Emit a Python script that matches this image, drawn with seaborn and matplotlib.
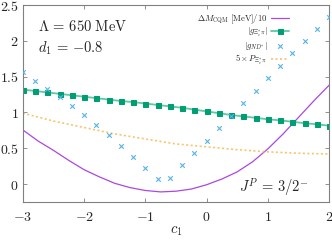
import numpy as np
import pandas as pd
import matplotlib
matplotlib.use('Agg')
import matplotlib.pyplot as plt
import seaborn as sns

# c1 grid for the coupled-channel points
c1_pts = [-3.0, -2.8, -2.6, -2.4, -2.2, -2.0, -1.8, -1.6, -1.4, -1.2, -1.0, -0.8, -0.6,
          -0.4, -0.2, 0.0, 0.2, 0.4, 0.6, 0.8, 1.0, 1.2, 1.4, 1.6, 1.8, 2.0]
g_xic_pi = [1.32, 1.30, 1.28, 1.26, 1.24, 1.22, 1.20, 1.18, 1.16, 1.145, 1.125, 1.105, 1.085,
            1.065, 1.04, 1.015, 0.99, 0.965, 0.945, 0.925, 0.905, 0.89, 0.87, 0.85, 0.835, 0.815]
g_nd = [1.56, 1.44, 1.33, 1.21, 1.09, 0.96, 0.82, 0.68, 0.53, 0.38, 0.23, 0.065, 0.09,
        0.26, 0.43, 0.60, 0.78, 0.95, 1.13, 1.30, 1.48, 1.65, 1.83, 2.00, 2.17, 2.33]

# CQM mass shift / 10 (curve)
c1_line = [-3.0, -2.75, -2.5, -2.25, -2.0, -1.75, -1.5, -1.25, -1.0, -0.75, -0.5,
           -0.25, 0.0, 0.25, 0.5, 0.75, 1.0, 1.25, 1.5, 1.75, 2.0]
dm_cqm = [0.755, 0.60, 0.47, 0.33, 0.20, 0.10, 0.01, -0.05, -0.09, -0.11, -0.10,
          -0.07, -0.01, 0.07, 0.17, 0.31, 0.49, 0.70, 0.93, 1.16, 1.38]

# 5 x probability
c1_prob = [-3.0, -2.5, -2.0, -1.5, -1.0, -0.5, 0.0, 0.5, 1.0, 1.5, 2.0]
prob5 = [0.99, 0.88, 0.79, 0.70, 0.63, 0.56, 0.52, 0.48, 0.45, 0.43, 0.42]

x_ticks = [-3, -2, -1, 0, 1, 2]
y_ticks = [0, 0.5, 1, 1.5, 2, 2.5]

sns.set_style('ticks')
plt.rcParams['font.family'] = ['DejaVu Serif']
plt.rcParams['mathtext.fontset'] = 'cm'

fig = plt.figure(figsize=(3.32, 2.43), dpi=100)
ax = fig.add_axes([0.069, 0.169, 0.922, 0.81])

sns.lineplot(x=c1_line, y=dm_cqm, ax=ax, color='#a948e2', lw=0.9,
             label=r'$\Delta M_{\rm CQM}\ [\mathrm{MeV}]/10$')
sns.lineplot(x=c1_pts, y=g_xic_pi, ax=ax, color='#5ccaa2', lw=1.3, marker='s',
             markersize=3.6, markerfacecolor='#009e73', markeredgecolor='#009e73',
             label=r'$|g_{\Xi_c^{*}\pi}|$')
sns.scatterplot(x=c1_pts, y=g_nd, ax=ax, marker='x', s=11, color='#56b4e9',
                linewidth=0.8, label=r'$|g_{ND^{*}}|$', zorder=3)
sns.lineplot(x=c1_prob, y=prob5, ax=ax, color='#f7c46a', lw=1.2,
             linestyle=(0, (1.2, 1.5)), label=r'$5\times P_{\Xi_c^{*}\pi}$')

ax.set_xlim(-3, 2)
ax.set_ylim(-0.25, 2.5)
ax.set_xticks(x_ticks)
ax.set_yticks(y_ticks)
ax.set_xticklabels([f'${v:g}$' for v in x_ticks], fontsize=10)
ax.set_yticklabels([f'${v:g}$' for v in y_ticks], fontsize=10)
ax.tick_params(direction='in', length=3, width=0.6, color='#808080',
               top=True, right=True)
ax.tick_params(axis='x', pad=6)
ax.tick_params(axis='y', pad=3)
for sp in ax.spines.values():
    sp.set_color('#808080')
    sp.set_linewidth(0.8)
ax.set_xlabel(r'$c_1$', fontsize=10.5, labelpad=0)
ax.set_ylabel('')

ax.text(0.048, 0.893, r'$\Lambda\, =\, 650\ \mathrm{MeV}$', transform=ax.transAxes,
        fontsize=10.5, va='center')
ax.text(0.048, 0.78, r'$d_1\, =\, {-}0.8$', transform=ax.transAxes, fontsize=10.5, va='center')
ax.text(0.705, 0.076, r'$J^P\, =\, 3/2^{-}$', transform=ax.transAxes, fontsize=10.5, va='center')

ax.legend(loc='upper right', bbox_to_anchor=(0.885, 0.99), frameon=False,
          markerfirst=False, fontsize=6.2, handlelength=2.0, labelspacing=0.08,
          handletextpad=0.5, borderaxespad=0.2)

fig.savefig('out.png', dpi=100)
